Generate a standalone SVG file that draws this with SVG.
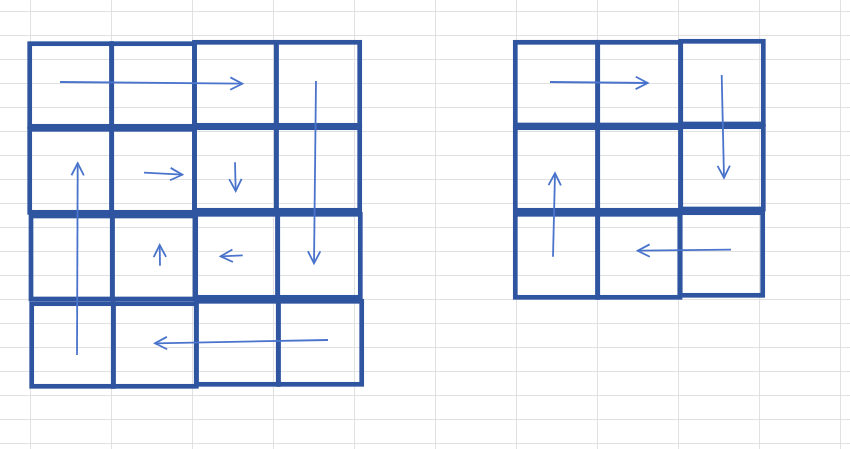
<svg xmlns="http://www.w3.org/2000/svg" width="850" height="449" viewBox="0 0 850 449">
<style>
.gl{stroke:#e1e1e1;stroke-width:1;fill:none}
.cell{fill:none;stroke:#2f55a0;stroke-width:4.7}
.arr{fill:none;stroke:#4a74cc;stroke-width:1.8;stroke-linecap:butt}
.ah{fill:none;stroke:#4a74cc;stroke-width:1.8;stroke-linejoin:miter}
</style>
<defs>
<marker id="head" markerUnits="userSpaceOnUse" markerWidth="30" markerHeight="30" refX="0" refY="0" viewBox="-15 -15 30 30" orient="auto" overflow="visible">
<path class="ah" d="M-12,-6.2 L0,0 L-12,6.2"/>
</marker>
</defs>
<rect width="850" height="449" fill="#ffffff"/>
<g id="sheet-grid">
<path class="gl" d="M30.5,0V449M111.5,0V449M192.5,0V449M273.5,0V449M354.5,0V449M435.5,0V449M516.5,0V449M597.5,0V449M678.5,0V449M759.5,0V449M840.5,0V449"/>
<path class="gl" d="M0,11.5H850M0,35.5H850M0,59.5H850M0,83.5H850M0,107.5H850M0,131.5H850M0,155.5H850M0,179.5H850M0,203.5H850M0,227.5H850M0,251.5H850M0,275.5H850M0,299.5H850M0,323.5H850M0,347.5H850M0,371.5H850M0,395.5H850M0,419.5H850M0,443.5H850"/>
</g>
<!-- Left grid 4x4 -->
<g id="L-r1c1"><rect class="cell" x="29.7" y="43.7" width="82" height="82.6"/></g>
<g id="L-r1c2"><rect class="cell" x="111.7" y="43.7" width="82.8" height="82.6"/></g>
<g id="L-r1c3"><rect class="cell" x="194.5" y="42.3" width="81.8" height="83"/></g>
<g id="L-r1c4"><rect class="cell" x="276.3" y="42.3" width="83.4" height="83"/></g>
<g id="L-r2c1"><rect class="cell" x="29.7" y="129.3" width="82" height="83"/></g>
<g id="L-r2c2"><rect class="cell" x="111.7" y="129.3" width="82.8" height="83"/></g>
<g id="L-r2c3"><rect class="cell" x="194.5" y="127.7" width="81.8" height="82.6"/></g>
<g id="L-r2c4"><rect class="cell" x="276.3" y="127.7" width="83.4" height="82.6"/></g>
<g id="L-r3c1"><rect class="cell" x="31" y="216" width="81.3" height="83"/></g>
<g id="L-r3c2"><rect class="cell" x="112.3" y="216" width="82.7" height="83"/></g>
<g id="L-r3c3"><rect class="cell" x="195.7" y="214.3" width="82" height="83"/></g>
<g id="L-r3c4"><rect class="cell" x="277.7" y="214.3" width="82.6" height="83"/></g>
<g id="L-r4c1"><rect class="cell" x="31.7" y="303.7" width="81.6" height="82.6"/></g>
<g id="L-r4c2"><rect class="cell" x="113.3" y="303.7" width="83" height="82.6"/></g>
<g id="L-r4c3"><rect class="cell" x="196.3" y="301.3" width="82" height="83"/></g>
<g id="L-r4c4"><rect class="cell" x="278.3" y="301.3" width="83.4" height="83"/></g>
<!-- Right grid 3x3 -->
<g id="R-r1c1"><rect class="cell" x="515.3" y="42.3" width="82.4" height="82.7"/></g>
<g id="R-r1c2"><rect class="cell" x="597.7" y="42.3" width="83" height="82.7"/></g>
<g id="R-r1c3"><rect class="cell" x="680.7" y="41.3" width="82.6" height="82.7"/></g>
<g id="R-r2c1"><rect class="cell" x="515.3" y="127.7" width="82.4" height="82.6"/></g>
<g id="R-r2c2"><rect class="cell" x="597.7" y="127.7" width="83" height="82.6"/></g>
<g id="R-r2c3"><rect class="cell" x="680.7" y="126.7" width="82.6" height="82.3"/></g>
<g id="R-r3c1"><rect class="cell" x="515.3" y="214.3" width="82.4" height="83"/></g>
<g id="R-r3c2"><rect class="cell" x="597.7" y="214.3" width="82.3" height="83"/></g>
<g id="R-r3c3"><rect class="cell" x="680" y="212.7" width="82.7" height="82.6"/></g>
<g id="connectors">
<path class="arr" marker-end="url(#head)" d="M60,82 L242.3,83.7"/>
<path class="arr" marker-end="url(#head)" d="M316,81 L314,263.3"/>
<path class="arr" marker-end="url(#head)" d="M77,355 L77.7,163.3"/>
<path class="arr" marker-end="url(#head)" d="M144,172.7 L182.3,174.7"/>
<path class="arr" marker-end="url(#head)" d="M235,162.3 L235.7,191"/>
<path class="arr" marker-end="url(#head)" d="M160,265.7 L159.7,245"/>
<path class="arr" marker-end="url(#head)" d="M242.7,255.3 L220.7,256.3"/>
<path class="arr" marker-end="url(#head)" d="M328,340 L155,343.3"/>
<path class="arr" marker-end="url(#head)" d="M550,82 L647.7,83"/>
<path class="arr" marker-end="url(#head)" d="M721.7,75 L724,177.7"/>
<path class="arr" marker-end="url(#head)" d="M553,256.7 L555,173.3"/>
<path class="arr" marker-end="url(#head)" d="M731,249.7 L637.7,250.7"/>
</g>
</svg>
